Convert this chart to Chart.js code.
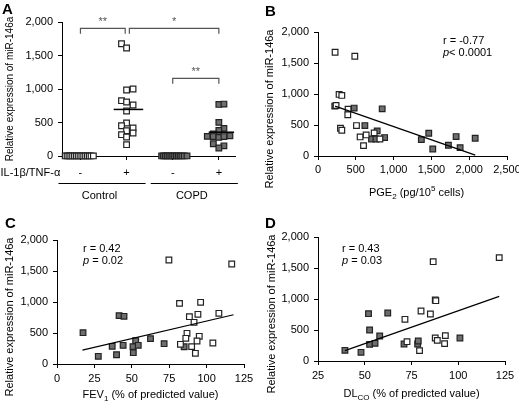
<!DOCTYPE html>
<html>
<head>
<meta charset="utf-8">
<script src="https://cdn.jsdelivr.net/npm/chart.js@4.4.1/dist/chart.umd.min.js"></script>
<style>
  html, body { margin: 0; padding: 0; background: #fff; width: 519px; height: 401px; overflow: hidden; position: relative; }
  canvas { position: absolute; }
  .tag { position: absolute; font: bold 15px "Liberation Sans", Arial, sans-serif; color: #000; line-height: 15px; }
</style>
</head>
<body>
<canvas id="cA" width="259" height="200" style="left:0;top:0"></canvas>
<canvas id="cB" width="280" height="200" style="left:259px;top:0"></canvas>
<canvas id="cC" width="259" height="201" style="left:0;top:200px"></canvas>
<canvas id="cD" width="280" height="201" style="left:259px;top:200px"></canvas>
<div class="tag" style="left:2px;top:1px">A</div>
<div class="tag" style="left:265px;top:3px">B</div>
<div class="tag" style="left:5px;top:215px">C</div>
<div class="tag" style="left:265px;top:215px">D</div>
<script>
// ---- panel A : miR-146a by group and stimulation ----
const groupNames = ['Control', 'COPD'];
const stimSigns = ['-', '+', '-', '+'];
const ctrlNegX = [0.67, 0.71, 0.75, 0.79, 0.83, 0.87, 0.91, 0.95, 0.99, 1.03, 1.07, 1.11, 1.15, 1.19, 1.23, 1.28];
const ctrlNegY = [1, 1, 1, 1, 1, 1, 1, 1, 1, 1, 1, 1, 1, 1, 1, 1];
const ctrlPosX = [1.89, 2.0, 2.0, 2.14, 1.89, 2.0, 2.14, 2.0, 2.0, 1.89, 2.14, 2.0, 1.89, 2.14, 2.0, 2.0];
const ctrlPosY = [1676, 1612, 985, 1000, 826, 806, 761, 672, 493, 452, 418, 378, 318, 343, 284, 169];
const copdNegX = [2.76, 2.80, 2.84, 2.88, 2.92, 2.96, 3.00, 3.04, 3.08, 3.12, 3.16, 3.20, 3.25, 3.31];
const copdNegY = [1, 1, 1, 1, 1, 1, 1, 1, 1, 1, 1, 1, 1, 1];
const copdPosX = [4.0, 4.11, 4.0, 4.11, 4.0, 3.75, 3.88, 3.88, 4.0, 4.11, 4.24, 3.88, 4.11, 4.0];
const copdPosY = [770, 775, 502, 412, 382, 293, 330, 290, 278, 290, 303, 183, 152, 119];
const ctrlMedian = 695;
const copdMedian = 355;
const brackets = [
  { from: 1, to: 1.97, y: 1905, mark: '**' },
  { from: 2.06, to: 4, y: 1905, mark: '*' },
  { from: 3, to: 4, y: 1160, mark: '**' }
];

// ---- panel B : PGE2 ----
const pgeCtrlX = [226, 487, 279, 315, 239, 398, 394, 297, 315, 509, 557, 637, 602, 743, 819];
const pgeCtrlY = [1673, 1609, 993, 977, 815, 756, 664, 448, 416, 491, 308, 340, 167, 373, 275];
const pgeCopdX = [222, 478, 849, 620, 783, 708, 766, 881, 1367, 1465, 1518, 1725, 1827, 1880, 2079];
const pgeCopdY = [805, 773, 761, 491, 405, 275, 275, 297, 264, 367, 113, 173, 313, 135, 287];
const pgeTrend = [[226, 805], [2080, 15]];

// ---- panel C : FEV1 ----
const fevCtrlX = [74.8, 116.8, 81.9, 96, 88.5, 94.2, 108.2, 91.6, 86.9, 86.1, 95.1, 93.6, 82.5, 90, 92.5, 104.2];
const fevCtrlY = [1677, 1613, 978, 995, 763, 801, 817, 672, 495, 414, 446, 371, 317, 280, 172, 339];
const fevCopdX = [17.4, 27.6, 36.9, 39.8, 41.5, 44.8, 44.2, 50.8, 51, 52.6, 54.3, 62.5, 71.6, 85];
const fevCopdY = [505, 124, 285, 150, 780, 769, 301, 280, 183, 376, 301, 409, 328, 278];
const fevTrend = [[17, 225], [118, 795]];

// ---- panel D : DLCO ----
const dlcoCtrlX = [121.9, 86.6, 87.7, 88, 80.1, 85.1, 71.5, 93.1, 87.7, 88.8, 92.7, 72.6, 79.3];
const dlcoCtrlY = [1667, 1602, 984, 973, 806, 758, 672, 409, 371, 333, 280, 312, 167];
const dlcoCopdX = [39.4, 48, 52, 52.6, 52.6, 55.5, 58, 62.3, 71, 78.3, 78.6, 100.9];
const dlcoCopdY = [172, 140, 763, 500, 269, 285, 403, 774, 274, 274, 323, 371];
const dlcoTrend = [[39.4, 167], [121.9, 1043]];

const yTicks = [0, 500, 1000, 1500, 2000];
const yTitle = 'Relative expression of miR-146a';

const FONT = '"Liberation Sans", Arial, sans-serif';
Chart.defaults.font.family = FONT;
Chart.defaults.font.size = 11;
Chart.defaults.color = '#000';

const zip = (xs, ys) => xs.map((x, i) => ({ x: x, y: ys[i] }));
const pairs = arr => arr.map(p => ({ x: p[0], y: p[1] }));
const fmt = v => Number(v).toLocaleString('en-US');

const openPts = data => ({ data: data, pointStyle: 'rect', pointRadius: 4, pointBackgroundColor: '#fff', pointBorderColor: '#222', pointBorderWidth: 1.2, clip: false });
const fillPts = data => ({ data: data, pointStyle: 'rect', pointRadius: 4, pointBackgroundColor: '#6e6e6e', pointBorderColor: '#222', pointBorderWidth: 1.2, clip: false });
const lineSet = (data, w) => ({ data: data, showLine: true, pointRadius: 0, borderColor: '#000', borderWidth: w, clip: false });

function fontFor(mode, size) {
  const s = (mode === 'sub' || mode === 'sup') ? Math.round(size * 0.72) : size;
  return (mode === 'i' ? 'italic ' : '') + s + 'px ' + FONT;
}
function rich(ctx, parts, x, y, align, size) {
  let total = 0;
  parts.forEach(p => { ctx.font = fontFor(p[1], size); total += ctx.measureText(p[0]).width; });
  let cx = align === 'center' ? x - total / 2 : x;
  ctx.textAlign = 'left';
  ctx.textBaseline = 'middle';
  parts.forEach(p => {
    ctx.font = fontFor(p[1], size);
    const dy = p[1] === 'sub' ? size * 0.3 : p[1] === 'sup' ? -size * 0.35 : 0;
    ctx.fillText(p[0], cx, y + dy);
    cx += ctx.measureText(p[0]).width;
  });
}
function vertText(ctx, text, x, y, size) {
  ctx.save();
  ctx.translate(x, y);
  ctx.rotate(-Math.PI / 2);
  ctx.font = size + 'px ' + FONT;
  ctx.textAlign = 'center';
  ctx.textBaseline = 'middle';
  ctx.fillStyle = '#000';
  ctx.fillText(text, 0, 0);
  ctx.restore();
}

function build(id, box, xOpts, datasets, note) {
  const cv = document.getElementById(id);
  return new Chart(cv, {
    type: 'scatter',
    data: { datasets: datasets },
    options: {
      responsive: false, animation: false, devicePixelRatio: 1, events: [],
      layout: { padding: { left: 0, top: box.top, right: cv.width - box.right, bottom: 0 } },
      plugins: { legend: { display: false }, tooltip: { enabled: false } },
      scales: {
        x: Object.assign({
          type: 'linear',
          grid: { drawOnChartArea: false, tickLength: 4, color: '#000' },
          border: { color: '#000', width: 1 },
          afterFit: s => { s.height = cv.height - box.bottom; s.paddingLeft = 0; s.paddingRight = 0; }
        }, xOpts),
        y: {
          type: 'linear', min: 0, max: 2000,
          afterBuildTicks: s => { s.ticks = yTicks.map(v => ({ value: v })); },
          ticks: { padding: 5, callback: v => fmt(v) },
          grid: { drawOnChartArea: false, tickLength: 4, color: '#000' },
          border: { color: '#000', width: 1 },
          afterFit: s => { s.width = box.left; s.paddingTop = 0; s.paddingBottom = 0; }
        }
      }
    },
    plugins: [{ id: 'notes', afterDraw: c => { c.ctx.save(); c.ctx.fillStyle = '#000'; note(c); c.ctx.restore(); } }]
  });
}

function statsNote(c, x, y, r, p) {
  rich(c.ctx, [['r = ' + r, '']], x, y, 'left', 11);
  rich(c.ctx, [['p', 'i'], [p, '']], x, y + 12, 'left', 11);
}

// A
build('cA', { left: 62, top: 22, right: 235, bottom: 156 },
  {
    min: 0.6, max: 4.35,
    afterBuildTicks: s => { s.ticks = stimSigns.map((t, i) => ({ value: i + 1 })); },
    ticks: { padding: 6, callback: (v, i) => stimSigns[i] }
  },
  [
    lineSet([{ x: 2 - 0.28, y: ctrlMedian }, { x: 2 + 0.36, y: ctrlMedian }], 1.5),
    lineSet([{ x: 4 - 0.22, y: copdMedian }, { x: 4 + 0.33, y: copdMedian }], 1.5),
    openPts(zip(ctrlNegX, ctrlNegY)),
    openPts(zip(ctrlPosX, ctrlPosY)),
    fillPts(zip(copdNegX, copdNegY)),
    fillPts(zip(copdPosX, copdPosY))
  ],
  c => {
    const ctx = c.ctx, sx = c.scales.x, sy = c.scales.y;
    vertText(ctx, yTitle, 10, 89, 10);
    ctx.strokeStyle = '#555';
    ctx.fillStyle = '#555';
    ctx.lineWidth = 1.2;
    brackets.forEach(b => {
      const x1 = sx.getPixelForValue(b.from), x2 = sx.getPixelForValue(b.to), y = sy.getPixelForValue(b.y);
      ctx.beginPath();
      ctx.moveTo(x1, y + 5.5); ctx.lineTo(x1, y); ctx.lineTo(x2, y); ctx.lineTo(x2, y + 5.5);
      ctx.stroke();
      ctx.font = '11px ' + FONT;
      ctx.textAlign = 'center';
      ctx.textBaseline = 'middle';
      ctx.fillText(b.mark, (x1 + x2) / 2, y - 6);
    });
    ctx.fillStyle = '#000';
    ctx.strokeStyle = '#000';
    ctx.lineWidth = 1;
    rich(ctx, [['IL-1\u03b2/TNF-\u03b1', '']], 0.5, 173, 'left', 11);
    groupNames.forEach((g, i) => {
      const a = sx.getPixelForValue(2 * i + 1), b = sx.getPixelForValue(2 * i + 2);
      ctx.beginPath();
      ctx.moveTo(a - 22, 183.5); ctx.lineTo(b + 19, 183.5);
      ctx.stroke();
      rich(ctx, [[g, '']], (a + b) / 2 - 4, 195.5, 'center', 11);
    });
  });

// B
build('cB', { left: 59, top: 32, right: 248, bottom: 156 },
  {
    min: 0, max: 2500,
    afterBuildTicks: s => { s.ticks = [0, 500, 1000, 1500, 2000, 2500].map(v => ({ value: v })); },
    ticks: { padding: 3, callback: v => fmt(v) }
  },
  [lineSet(pairs(pgeTrend), 1.2), openPts(zip(pgeCtrlX, pgeCtrlY)), fillPts(zip(pgeCopdX, pgeCopdY))],
  c => {
    vertText(c.ctx, yTitle, 11, 109, 11);
    rich(c.ctx, [['PGE', ''], ['2', 'sub'], [' (pg/10', ''], ['5', 'sup'], [' cells)', '']], (c.chartArea.left + c.chartArea.right) / 2 + 4, 193, 'center', 11);
    statsNote(c, 184, 41, '-0.77', '< 0.0001');
  });

// C
build('cC', { left: 57, top: 40, right: 244, bottom: 164 },
  {
    min: 0, max: 125,
    afterBuildTicks: s => { s.ticks = [0, 25, 50, 75, 100, 125].map(v => ({ value: v })); },
    ticks: { padding: 4 }
  },
  [lineSet(pairs(fevTrend), 1.2), openPts(zip(fevCtrlX, fevCtrlY)), fillPts(zip(fevCopdX, fevCopdY))],
  c => {
    vertText(c.ctx, yTitle, 10, 117, 11);
    rich(c.ctx, [['FEV', ''], ['1', 'sub'], [' (% of predicted value)', '']], (c.chartArea.left + c.chartArea.right) / 2, 195, 'center', 11);
    statsNote(c, 83, 49, '0.42', ' = 0.02');
  });

// D
build('cD', { left: 59, top: 37, right: 246, bottom: 161 },
  {
    min: 25, max: 125,
    afterBuildTicks: s => { s.ticks = [25, 50, 75, 100, 125].map(v => ({ value: v })); },
    ticks: { padding: 4 }
  },
  [lineSet(pairs(dlcoTrend), 1.2), openPts(zip(dlcoCtrlX, dlcoCtrlY)), fillPts(zip(dlcoCopdX, dlcoCopdY))],
  c => {
    vertText(c.ctx, yTitle, 13, 114, 11);
    rich(c.ctx, [['DL', ''], ['CO', 'sub'], [' (% of predicted value)', '']], (c.chartArea.left + c.chartArea.right) / 2, 194, 'center', 11);
    statsNote(c, 83, 49, '0.43', ' = 0.03');
  });
</script>
</body>
</html>
